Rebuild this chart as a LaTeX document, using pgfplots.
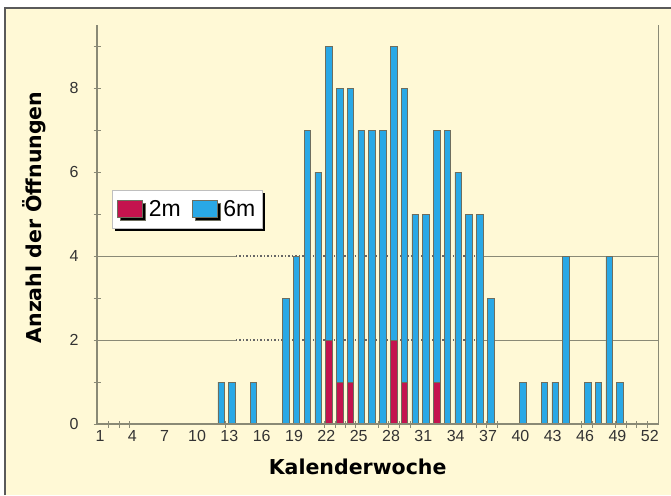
\documentclass[border=0pt]{standalone}
\usepackage{pgfplots}
\pgfplotsset{compat=1.18}
\usepackage{fontspec}
\setmainfont{Liberation Sans}
\newfontfamily\titlefont{DejaVu Sans}
\usetikzlibrary{shadows}
\definecolor{bgy}{HTML}{FFF9D6}
\definecolor{barblue}{HTML}{29A8E6}
\definecolor{barred}{HTML}{C4134E}
\definecolor{axgray}{HTML}{8A8A76}
\definecolor{framegray}{HTML}{5A5A5A}
\definecolor{barline}{HTML}{6E6E5E}
\begin{document}
\begin{tikzpicture}[x=1pt,y=1pt]
\path[use as bounding box, fill=white] (0,0) rectangle (671,-495);
\fill[bgy] (5,-8) rectangle (671,-495);
\draw[framegray, line width=1.5pt] (5,-495) -- (5,-8) -- (671,-8);
\begin{axis}[
  at={(97pt,-424pt)}, anchor=south west,
  scale only axis, width=561.7pt, height=399pt,
  xmin=0.72, xmax=52.83, ymin=0, ymax=9.5,
  clip=false,
  axis line style={draw=none},
  ybar,
  xtick={1,4,...,52},
  minor xtick={1.77,2.79,3.78,12.6,21.8,22.8,23.8,24.7,26.8,27.8,28.8,29.8,35.9,36.9,37.9,45.7,46.7,48.8,49.8,50.8,51.8},
  ytick={0,2,4,6,8},
  minor ytick={0,...,9},
  xtick pos=bottom, ytick pos=left,
  major tick length=0pt, minor tick length=7pt,
  tick align=center,
  tick style={axgray, line width=1pt},
  /pgf/number format/assume math mode=true,
  tick label style={font=\fontsize{16}{18}\selectfont, text=black!80},
  yticklabel style={anchor=east, xshift=-15pt},
  xticklabel style={anchor=north, yshift=-3pt},
  xlabel={\titlefont\bfseries Kalenderwoche},
  xlabel style={at={(axis description cs:0.464,-0.108)}, anchor=center, font=\fontsize{20.5}{23}\selectfont},
  ylabel={\titlefont\bfseries Anzahl der Öffnungen},
  ylabel style={at={(axis description cs:-0.112,0.5175)}, anchor=center, rotate=0, font=\fontsize{20.5}{23}\selectfont},
  legend columns=2,
  reverse legend,
  legend image code/.code={\draw[#1, line width=0.6pt] (0pt,-8.5pt) rectangle (25pt,8.5pt);},
  legend style={at={(rel axis cs:0.0267,0.5865)}, anchor=north west,
    draw=black!25, fill=white, line width=0.6pt,
    drop shadow={shadow xshift=3pt, shadow yshift=-3pt, fill=black, opacity=1},
    font=\fontsize{23}{25}\selectfont,
    inner xsep=5pt, inner ysep=8pt,
    /tikz/every odd column/.append style={column sep=4pt},
    /tikz/every even column/.append style={column sep=9pt}},
]
\draw[axgray, line width=1pt] (axis cs:0.72,2) -- (axis cs:13.6,2);
\draw[black!60, line width=1.2pt, dash pattern=on 1.5pt off 2pt] (axis cs:13.6,2) -- (axis cs:36.5,2);
\draw[axgray, line width=1pt] (axis cs:36.5,2) -- (axis cs:52.83,2);
\draw[axgray, line width=1pt] (axis cs:0.72,4) -- (axis cs:13.6,4);
\draw[black!60, line width=1.2pt, dash pattern=on 1.5pt off 2pt] (axis cs:13.6,4) -- (axis cs:36.5,4);
\draw[axgray, line width=1pt] (axis cs:36.5,4) -- (axis cs:52.83,4);
\addplot[fill=barblue, draw=barline, line width=0.6pt, bar width=6.5pt, bar shift=2.5pt] coordinates {
(12,1) (13,1) (15,1) (18,3) (19,4) (20,7) (21,6) (22,9) (23,8) (24,8) (25,7) (26,7) (27,7) (28,9) (29,8) (30,5) (31,5) (32,7) (33,7) (34,6) (35,5) (36,5) (37,3) (40,1) (42,1) (43,1) (44,4) (46,1) (47,1) (48,4) (49,1)};
\addlegendentry{6m}
\addplot[fill=barred, draw=barline, line width=0.6pt, bar width=6.5pt, bar shift=2.5pt] coordinates {
(22,2) (23,1) (24,1) (28,2) (29,1) (32,1)};
\addlegendentry{2m}
\draw[axgray, line width=1.5pt] (rel axis cs:0,1) -- (rel axis cs:0,0) -- (rel axis cs:1,0) -- (rel axis cs:1,1);
\end{axis}
\end{tikzpicture}
\end{document}
